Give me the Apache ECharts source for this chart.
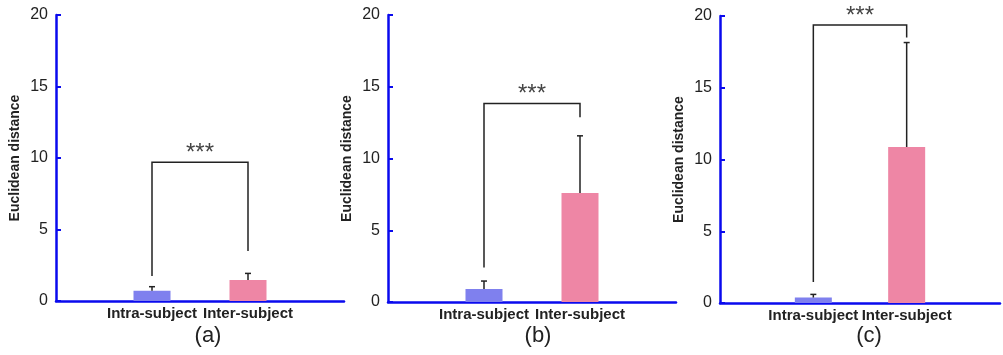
<!DOCTYPE html>
<html>
<head>
<meta charset="utf-8">
<script src="https://cdn.jsdelivr.net/npm/echarts@6/dist/echarts.min.js"></script>
<style>html,body{margin:0;padding:0;background:#fff;}#c{width:1003px;height:355px;}</style>
</head>
<body>
<div id="c"></div>
<script>
const categories = ['', 'Intra-subject', 'Inter-subject', ''];
const panelLabels = ['(a)', '(b)', '(c)'];
const intraMean = [0.72, 0.9, 0.38];
const intraUpper = [1.0, 1.46, 0.6];
const interMean = [1.47, 7.6, 10.87];
const interUpper = [1.93, 11.58, 18.15];
const bracketLeftEnd = [1.75, 2.4, 1.46];
const bracketRightEnd = [3.5, 12.87, 18.5];
const bracketTop = [9.7, 13.84, 19.37];
const sigLabel = '***';
const yName = 'Euclidean distance';
const yMin = 0, yMax = 20, yInterval = 5;

const FONT = 'Arial, "Liberation Sans", sans-serif';
const AXIS = '#0a0aee';
const BLUE = '#7f80ee';
const PINK = '#ee86a5';
const INK = '#222';

const gridsPos = [
  {left: 56, top: 15, width: 288, height: 286},
  {left: 388, top: 15, width: 288, height: 287},
  {left: 720, top: 16, width: 288, height: 287}
];
const labelX = [208, 538, 869];

const chart = echarts.init(document.getElementById('c'));
const grid = [], xAxis = [], yAxis = [], series = [], graphic = [];

gridsPos.forEach((g, i) => {
  grid.push(Object.assign({containLabel: false}, g));
  xAxis.push({
    type: 'category', gridIndex: i, data: categories, boundaryGap: false,
    axisLine: {lineStyle: {color: AXIS, width: 2.5}},
    axisTick: {show: false},
    axisLabel: {interval: 0, color: INK, fontFamily: FONT, fontWeight: 'bold', fontSize: 15, margin: 5},
    splitLine: {show: false}
  });
  yAxis.push({
    type: 'value', gridIndex: i, min: yMin, max: yMax, interval: yInterval,
    name: yName, nameLocation: 'middle', nameGap: 34,
    nameTextStyle: {color: INK, fontFamily: FONT, fontWeight: 'bold', fontSize: 14},
    axisLine: {show: true, lineStyle: {color: AXIS, width: 2.5}},
    axisTick: {show: true, inside: true, length: 5, lineStyle: {color: AXIS, width: 2}},
    axisLabel: {color: INK, fontFamily: FONT, fontSize: 16, margin: 8},
    splitLine: {show: false}
  });
  series.push({
    type: 'bar', xAxisIndex: i, yAxisIndex: i, barWidth: 37,
    data: ['-', {value: intraMean[i], itemStyle: {color: BLUE}}, {value: interMean[i], itemStyle: {color: PINK}}, '-'],
    z: 2
  });
  series.push({
    type: 'custom', xAxisIndex: i, yAxisIndex: i, z: 3,
    data: [[1, intraMean[i], intraUpper[i]], [2, interMean[i], interUpper[i]]],
    renderItem: function (params, api) {
      const x = api.value(0);
      const p0 = api.coord([x, api.value(1)]);
      const p1 = api.coord([x, api.value(2)]);
      return {
        type: 'group',
        children: [
          {type: 'line', shape: {x1: p0[0], y1: p0[1], x2: p1[0], y2: p1[1]}, style: {stroke: INK, lineWidth: 1.5}},
          {type: 'line', shape: {x1: p1[0] - 3, y1: p1[1], x2: p1[0] + 3, y2: p1[1]}, style: {stroke: INK, lineWidth: 1.5}}
        ]
      };
    }
  });
  series.push({
    type: 'custom', xAxisIndex: i, yAxisIndex: i, z: 4,
    data: [[1, 2, bracketLeftEnd[i], bracketRightEnd[i], bracketTop[i]]],
    renderItem: function (params, api) {
      const xl = api.value(0), xr = api.value(1);
      const a = api.coord([xl, api.value(2)]);
      const b = api.coord([xl, api.value(4)]);
      const c = api.coord([xr, api.value(4)]);
      const d = api.coord([xr, api.value(3)]);
      return {
        type: 'group',
        children: [
          {type: 'polyline', shape: {points: [a, b, c, d]}, style: {stroke: INK, lineWidth: 1.5, fill: null}},
          {type: 'text', x: (b[0] + c[0]) / 2, y: b[1] - 9,
            style: {text: sigLabel, fill: '#444', font: '24px ' + FONT, textAlign: 'center', textVerticalAlign: 'middle'}}
        ]
      };
    }
  });
  graphic.push({
    type: 'text', x: labelX[i], y: 336,
    style: {text: panelLabels[i], fill: INK, font: '22px ' + FONT, textAlign: 'center', textVerticalAlign: 'middle'}
  });
});

chart.setOption({animation: false, backgroundColor: '#fff', grid, xAxis, yAxis, series, graphic});
</script>
</body>
</html>
